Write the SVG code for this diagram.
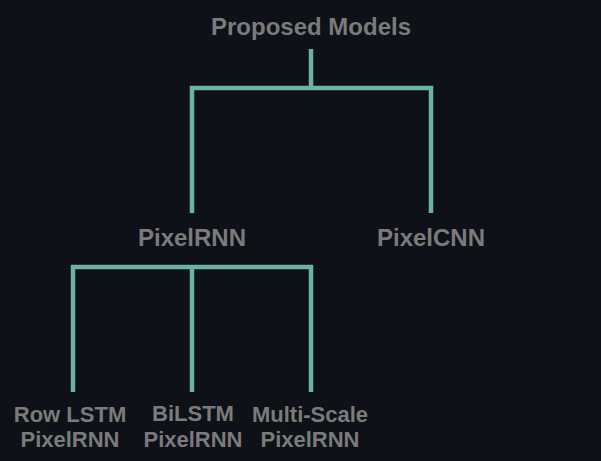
<svg xmlns="http://www.w3.org/2000/svg" width="601" height="461" viewBox="0 0 601 461">
<style>
.bg{fill:#0e1117}
.link{fill:none;stroke:#69b3a2;stroke-width:4.5;stroke-linejoin:miter;stroke-linecap:butt}
text{font-family:"Liberation Sans",Arial,sans-serif;font-weight:bold;fill:#7b7b7b;text-anchor:middle}
.l1{font-size:24px}
.l2{font-size:22px}
</style>
<rect class="bg" x="0" y="0" width="601" height="461"/>
<g id="connectors">
<path class="link" d="M311,49 V88"/>
<path class="link" d="M192,213 V88 H431 V213"/>
<path class="link" d="M73,392 V267 H311 V392"/>
<path class="link" d="M192,267 V392"/>
</g>
<g id="node-proposed"><text class="l1" x="311" y="35">Proposed Models</text></g>
<g id="node-pixelrnn"><text class="l1" x="192" y="246">PixelRNN</text></g>
<g id="node-pixelcnn"><text class="l1" x="431" y="246">PixelCNN</text></g>
<g id="node-rowlstm"><text class="l2" x="70" y="422">Row LSTM</text><text class="l2" x="70" y="447">PixelRNN</text></g>
<g id="node-bilstm"><text class="l2" x="193" y="421">BiLSTM</text><text class="l2" x="193" y="447">PixelRNN</text></g>
<g id="node-multiscale"><text class="l2" x="310" y="422">Multi-Scale</text><text class="l2" x="310" y="447">PixelRNN</text></g>
</svg>
